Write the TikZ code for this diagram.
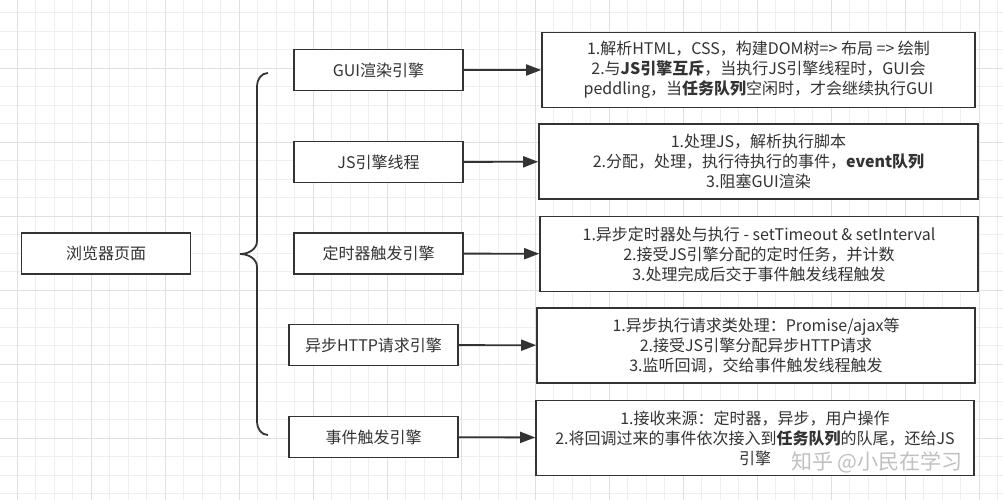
\documentclass[tikz,border=0pt]{standalone}
\usepackage{fontspec}
\setmainfont{Noto Sans CJK SC}
\usepackage{tikz}
\usetikzlibrary{arrows.meta, positioning}
\tikzset{>={Triangle[length=15pt,width=11pt]}}
\definecolor{gridminor}{HTML}{EFEFEF}
\definecolor{gridmajor}{HTML}{E0E0E0}
\definecolor{ink}{HTML}{333333}

\begin{document}
\begin{tikzpicture}[x=1pt, y=-1pt, ink, line width=1.6pt,
	engine/.style={draw=ink, fill=white, minimum width=169pt, minimum height=41pt, inner sep=0pt, font=\fontsize{16}{20}\selectfont},
	note/.style={draw=ink, fill=white, minimum height=75pt, inner sep=0pt, align=center, font=\fontsize{16}{20}\selectfont},
	link/.style={->, line width=1.8pt}]

	\useasboundingbox[fill=white] (0,0) rectangle (1003,500);
	% background grid
	\foreach \x in {-1.2,17.3,...,1004} \draw[gridminor, line width=0.8pt] (\x,0) -- (\x,500);
	\foreach \y in {-5.8,12.7,...,501} \draw[gridminor, line width=0.8pt] (0,\y) -- (1003,\y);
	\foreach \x in {17.3,91.3,...,1004} \draw[gridmajor, line width=0.9pt] (\x,0) -- (\x,500);
	\foreach \y in {-5.8,68.2,...,501} \draw[gridmajor, line width=0.9pt] (0,\y) -- (1003,\y);

	\node[engine]	(P)	at	(106,253.5)	{浏览器页面};

	\node[engine]	(E1)	at	(378.5,70)	{GUI渲染引擎};
	\node[engine]	(E2)	at	(378.5,162)	{JS引擎线程};
	\node[engine]	(E3)	at	(378.5,253.5)	{定时器触发引擎};
	\node[engine]	(E4)	at	(373.5,345)	{异步HTTP请求引擎};
	\node[engine]	(E5)	at	(373.5,437)	{事件触发引擎};

	\node[note, minimum width=433pt]	(D1)	at	(758.5,70)	{1.解析HTML，CSS，构建DOM树=> 布局 => 绘制\\2.与\textbf{JS引擎互斥}，当执行JS引擎线程时，GUI会\\peddling，当\textbf{任务队列}空闲时，才会继续执行GUI};
	\node[note, minimum width=439pt]	(D2)	at	(758.5,161.5)	{1.处理JS，解析执行脚本\\2.分配，处理，执行待执行的事件，\textbf{event队列}\\3.阻塞GUI渲染};
	\node[note, minimum width=438pt]	(D3)	at	(759,254)	{1.异步定时器处与执行 - setTimeout \& setInterval\\2.接受JS引擎分配的定时任务，并计数\\3.处理完成后交于事件触发线程触发};
	\node[note, minimum width=438pt]	(D4)	at	(756,345.5)	{1.异步执行请求类处理：Promise/ajax等\\2.接受JS引擎分配异步HTTP请求\\3.监听回调，交给事件触发线程触发};
	\node[note, minimum width=438pt]	(D5)	at	(755,438)	{1.接收来源：定时器，异步，用户操作\\2.将回调过来的事件依次接入到\textbf{任务队列}的队尾，还给JS\\引擎};

	\foreach \i in {1,...,5}
		\draw[link] (E\i) -- (D\i);

	% brace
	\draw[line width=1.8pt] (268,73) to[out=180,in=90] (257,86) -- (257,241)
		to[out=-90,in=0] (240,254) to[out=0,in=90] (257,267) -- (257,422)
		to[out=-90,in=180] (268,435);

	\node[gray!70, opacity=0.7, font=\fontsize{21}{21}\selectfont] (W) at (877,462) {知乎 @小民在学习};
\end{tikzpicture}
\end{document}
